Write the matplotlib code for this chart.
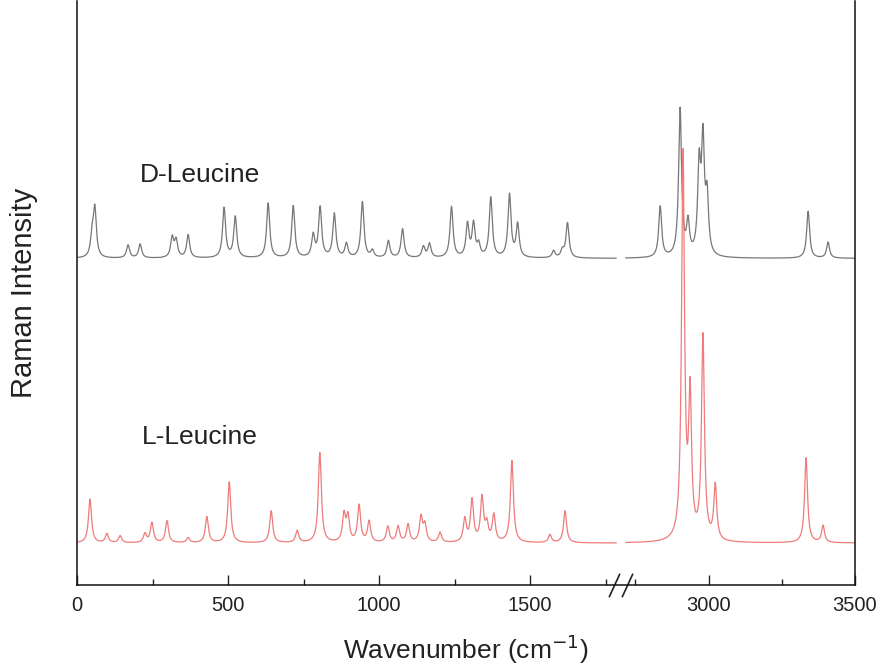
import numpy as np
import matplotlib
matplotlib.use("Agg")
import matplotlib.pyplot as plt
from matplotlib import transforms as mtransforms
from matplotlib.path import Path

# Peak positions (cm-1) and heights (arb. units)
d_pos = [50, 59, 169, 209, 315, 328, 368, 487, 524, 633, 716, 782, 805, 852,
         892, 945, 978, 1031, 1078, 1147, 1167, 1240, 1293, 1313, 1330, 1370,
         1432, 1459, 1578, 1607, 1624,
         2835, 2903, 2930, 2968, 2981, 2995, 3340, 3408]
d_amp = [20, 48, 13, 14, 20, 17, 23, 50, 41, 55, 52, 22, 50, 44,
         14, 56, 7, 17, 29, 11, 14, 51, 33, 33, 12, 60,
         63, 33, 7, 7, 35,
         51, 148, 32, 86, 110, 55, 47, 16]

l_pos = [43, 99, 143, 225, 248, 298, 368, 430, 504, 643, 729, 804, 884, 897,
         934, 967, 1029, 1063, 1096, 1139, 1152, 1202, 1284, 1308, 1341, 1357,
         1380, 1440, 1566, 1616,
         2913, 2937, 2981, 3023, 3333, 3391]
l_amp = [44, 9, 7, 9, 20, 22, 5, 26, 61, 32, 12, 90, 27, 25,
         37, 21, 16, 16, 18, 25, 17, 10, 23, 42, 44, 17,
         27, 82, 8, 32,
         385, 140, 204, 55, 85, 17]

d_offset = 327
l_offset = 42

# axis break: 1800 -> 2700, right segment slightly compressed
brk_lo, brk_hi, r = 1800.0, 2700.0, 0.97


def fwd(x):
    x = np.asarray(x, dtype=float)
    return np.where(x <= brk_lo, x,
                    np.where(x >= brk_hi, brk_lo + (x - brk_hi) * r, brk_lo))


def inv(y):
    y = np.asarray(y, dtype=float)
    return np.where(y <= brk_lo, y, brk_hi + (y - brk_lo) / r)


def spectrum(x, pos, amp, fwhm=12.0):
    hw = fwhm / 2.0
    y = np.zeros_like(x)
    for p, a in zip(pos, amp):
        y += a / (1.0 + ((x - p) / hw) ** 2)
    return y


x_left = np.linspace(0, 1785, 3000)
x_right = np.linspace(2718, 3500, 1500)
x = np.concatenate([x_left, [np.nan], x_right])

plt.rcParams["font.family"] = ["Liberation Sans", "DejaVu Sans"]

fig = plt.figure(figsize=(8.85, 6.71), dpi=100)
ax = fig.add_axes([77 / 885, 1 - 585 / 671, 778 / 885, 585 / 671 - 0.001])
ax.set_xscale("function", functions=(fwd, inv))

ax.plot(x, spectrum(x, d_pos, d_amp) + d_offset, color="#777777", lw=0.9)
ax.plot(x, spectrum(x, l_pos, l_amp) + l_offset, color="#ef7b7b", lw=0.9)

ax.set_xlim(0, 3500)
ax.set_ylim(0, 585)
ax.set_xticks([0, 500, 1000, 1500, 3000, 3500])
ax.set_xticks([250, 750, 1250, 1750, 2750, 3250], minor=True)
ax.set_yticks([])
ax.tick_params(axis="x", which="both", direction="in", top=False,
               labelsize=14.5, width=1.0, pad=8, colors="#222222")
ax.tick_params(axis="x", which="major", length=7)
ax.tick_params(axis="x", which="minor", length=4)
ax.spines["top"].set_visible(False)
for s in ("left", "right", "bottom"):
    ax.spines[s].set_linewidth(1.1)
    ax.spines[s].set_color("#111111")

ax.set_xlabel("Wavenumber (cm$^{-1}$)", fontsize=19, color="#222222")
ax.set_ylabel("Raman Intensity", fontsize=21, color="#222222")
ax.xaxis.set_label_coords(0.5, -0.082)
ax.yaxis.set_label_coords(-0.05, 0.5)

ax.text(407, 410, "D-Leucine", fontsize=19, ha="center", va="center",
        color="#222222")
ax.text(407, 148, "L-Leucine", fontsize=19, ha="center", va="center",
        color="#222222")

# break marks on the bottom axis
blend = mtransforms.blended_transform_factory(ax.transData, ax.transAxes)
slash = Path([(-0.23, -0.5), (0.23, 0.5)])
for dx in (-6.5, 6.5):
    tr = mtransforms.offset_copy(blend, fig=fig, x=dx, y=0, units="dots")
    ax.plot([brk_lo], [0], transform=tr, marker=slash, markersize=17,
            mfc="none", mec="#222222", mew=1.2, ls="none", clip_on=False)

fig.savefig("out.png", dpi=100)
